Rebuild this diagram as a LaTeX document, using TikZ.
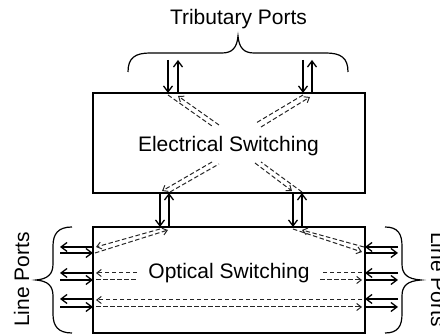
\documentclass[tikz,border=0pt]{standalone}
\usepackage{fontspec}
\setmainfont{Liberation Sans}
\usetikzlibrary{arrows.meta}
\begin{document}
\begin{tikzpicture}[x=1pt,y=-1pt,
  box/.style={draw, line width=1.6pt, inner sep=0pt, outer sep=0pt},
  arr/.style={line width=1.3pt, -{Straight Barb[length=6pt,width=9pt]}},
  dsh/.style={line width=1pt, black!85, dash pattern=on 4.5pt off 2.5pt},
  dar/.style={dsh, -{Straight Barb[length=4.5pt,width=7pt]}},
  brc/.style={line width=1.2pt},
  lbl/.style={font=\fontsize{21}{25}\selectfont, inner sep=0pt, anchor=base}]
\useasboundingbox (0,0) rectangle (440,336);

% boxes
\node[box, minimum width=272pt, minimum height=100pt] (es) at (229,143) {};
\node[box, minimum width=272pt, minimum height=106pt] (os) at (229,280) {};

% labels
\node[lbl] (tt) at (238.5,25) {Tributary Ports};
\node[lbl] (et) at (228.5,152) {Electrical Switching};
\node[lbl] (ot) at (229,279) {Optical Switching};
\node[lbl, rotate=90] (lp1) at (29,279.5) {Line Ports};
\node[lbl, rotate=-90] (lp2) at (431,279.5) {Line Ports};

% tributary arrows
\coordinate (t1) at (168,60);
\coordinate (t2) at (178,60);
\coordinate (t3) at (303,60);
\coordinate (t4) at (312,60);
\draw[arr] (t1) -- (t1 |- es.north);
\draw[arr] (t2 |- es.north) -- (t2);
\draw[arr] (t3) -- (t3 |- es.north);
\draw[arr] (t4 |- es.north) -- (t4);

% arrows between boxes
\coordinate (m1) at (160,0);
\coordinate (m2) at (169,0);
\coordinate (m3) at (293,0);
\coordinate (m4) at (302,0);
\draw[arr] (es.south -| m1) -- (os.north -| m1);
\draw[arr] (os.north -| m2) -- (es.south -| m2);
\draw[arr] (es.south -| m3) -- (os.north -| m3);
\draw[arr] (os.north -| m4) -- (es.south -| m4);

% line port arrows
\coordinate (lo1) at (60,247); \coordinate (li1) at (60,253);
\coordinate (lo2) at (60,273); \coordinate (li2) at (60,280);
\coordinate (lo3) at (60,299); \coordinate (li3) at (60,307);
\coordinate (ri1) at (398,247); \coordinate (ro1) at (398,253);
\coordinate (ri2) at (398,273); \coordinate (ro2) at (398,280);
\coordinate (ri3) at (398,299); \coordinate (ro3) at (398,307);
\foreach \k in {1,2,3}{
  \draw[arr] (os.west |- lo\k) -- (lo\k);
  \draw[arr] (li\k) -- (os.west |- li\k);
  \draw[arr] (ri\k) -- (os.east |- ri\k);
  \draw[arr] (os.east |- ro\k) -- (ro\k);
}

% electrical switching paths
\draw[dsh] (168,95) -- (212,126);
\draw[dar] (219,125) -- (178,96);
\draw[dsh] (303,95) -- (256,123);
\draw[dar] (261,127) -- (310,97);
\draw[dar] (255,163) -- (292,191);
\draw[dsh] (302,192) -- (261,162);
\draw[dar] (212,162) -- (162,191);
\draw[dsh] (170,192) -- (219,164);

% optical switching paths
\draw[dar] (160,229) -- (96,247);
\draw[dar] (95,253) -- (168,230);
\draw[dar] (293,229) -- (362,252);
\draw[dar] (364,247) -- (302,230);
\draw[dar] (137,273) -- (96,273);
\draw[dsh] (96,280) -- (137,280);
\draw[dsh] (362,273) -- (320,273);
\draw[dar] (320,280) -- (362,280);
\draw[dar] (362,300) -- (96,300);
\draw[dar] (96,307) -- (362,307);

% braces
\draw[brc] (128,72) .. controls (128,58) and (135,53) .. (150,53) -- (222,53)
  .. controls (232,53) and (237,48) .. (238,36)
  .. controls (239,48) and (244,53) .. (254,53) -- (326,53)
  .. controls (341,53) and (348,58) .. (348,72);
\draw[brc] (72,227) .. controls (58,227) and (53,234) .. (53,246) -- (53,264)
  .. controls (53,274) and (48,279) .. (36,280)
  .. controls (48,281) and (53,286) .. (53,296) -- (53,314)
  .. controls (53,326) and (58,333) .. (72,333);
\draw[brc] (385,227) .. controls (398,227) and (402,234) .. (402,246) -- (402,264)
  .. controls (402,274) and (407,279) .. (421,280)
  .. controls (407,281) and (402,286) .. (402,296) -- (402,314)
  .. controls (402,326) and (398,333) .. (385,333);
\end{tikzpicture}
\end{document}
